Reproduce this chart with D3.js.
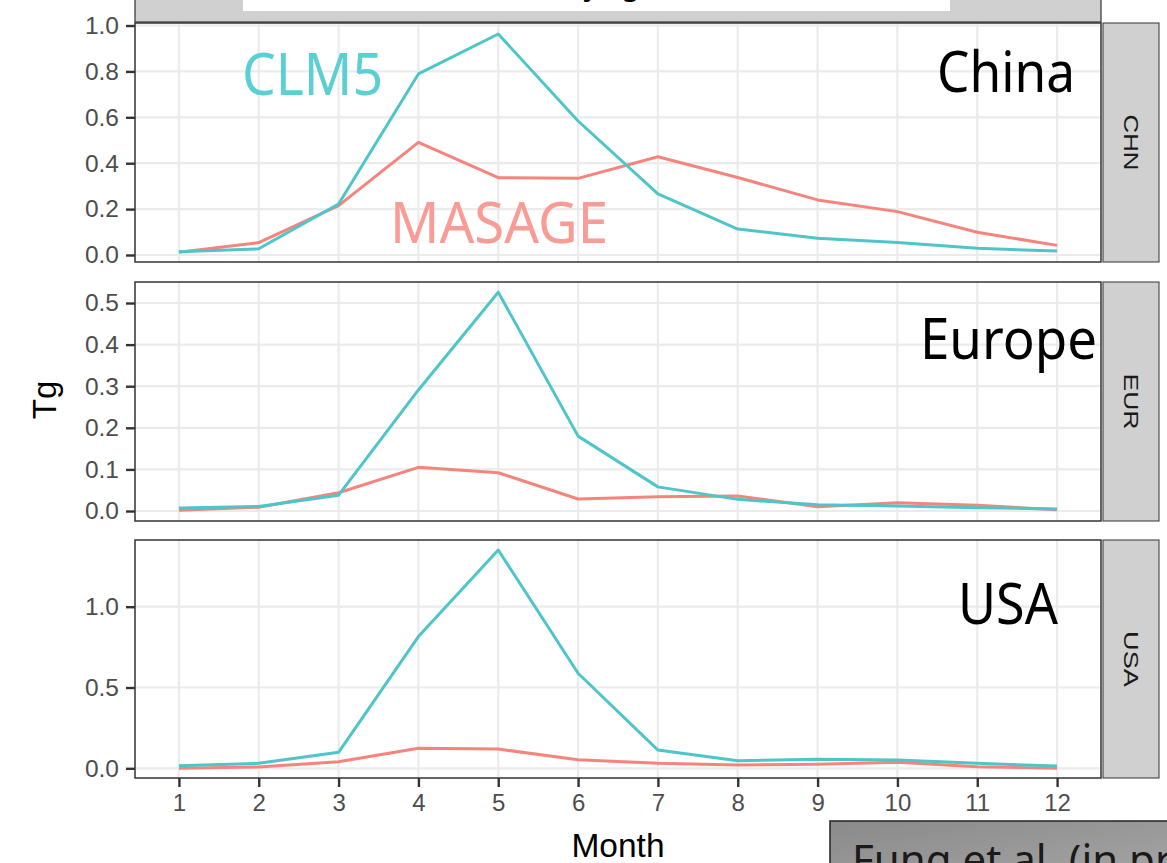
<!DOCTYPE html>
<html><head><meta charset="utf-8">
<script src="https://cdn.jsdelivr.net/npm/d3@7"></script>
<style>body{margin:0;background:#fff}svg{display:block}</style>
</head><body>
<svg id="c" width="1167" height="863"></svg>
<script>
// ---- data ----
const months = [1,2,3,4,5,6,7,8,9,10,11,12];
const monthLabels = ["1","2","3","4","5","6","7","8","9","10","11","12"];
const regions = ["CHN","EUR","USA"];
const regionNames = ["China","Europe","USA"];
const seriesNames = ["MASAGE","CLM5"];

const chnMASAGE = [0.012,0.054,0.215,0.491,0.337,0.334,0.428,0.338,0.240,0.189,0.099,0.042];
const chnCLM5   = [0.014,0.027,0.222,0.789,0.963,0.584,0.266,0.113,0.073,0.054,0.029,0.017];
const eurMASAGE = [0.002,0.009,0.044,0.105,0.092,0.029,0.034,0.036,0.010,0.020,0.014,0.003];
const eurCLM5   = [0.007,0.011,0.038,0.291,0.526,0.180,0.058,0.028,0.015,0.012,0.008,0.005];
const usaMASAGE = [0.001,0.008,0.041,0.124,0.119,0.053,0.031,0.020,0.025,0.037,0.010,0.001];
const usaCLM5   = [0.016,0.031,0.099,0.815,1.351,0.588,0.113,0.047,0.056,0.051,0.031,0.014];

const chnTicks = [0,0.2,0.4,0.6,0.8,1.0];
const eurTicks = [0,0.1,0.2,0.3,0.4,0.5];
const usaTicks = [0,0.5,1.0];
const chnLimits = [-0.0305,1.011];
const eurLimits = [-0.024,0.5505];
const usaLimits = [-0.060,1.4128];

// ---- layout ----
const svg = d3.select("#c");
const L = 135, R = 1101;
const panels = [
  {code:regions[0], name:regionNames[0], top:23, bottom:262, m:chnMASAGE, c:chnCLM5, ticks:chnTicks, lim:chnLimits, lab:{x:1075, y:91.7, w:138}},
  {code:regions[1], name:regionNames[1], top:282, bottom:521, m:eurMASAGE, c:eurCLM5, ticks:eurTicks, lim:eurLimits, lab:{x:1097, y:359, w:177}},
  {code:regions[2], name:regionNames[2], top:540, bottom:778, m:usaMASAGE, c:usaCLM5, ticks:usaTicks, lim:usaLimits, lab:{x:1058, y:624, w:100}}
];
const colM = "#f5847d", colC = "#4ec5c8";
const x = d3.scaleLinear().domain([0.45, 12.55]).range([L, R]);

// top strip (partially hidden title)
svg.append("rect").attr("x",L).attr("y",-5).attr("width",R-L).attr("height",27)
  .attr("fill","#d0d0d0").attr("stroke","#333").attr("stroke-width",1.2);
svg.append("rect").attr("x",243).attr("y",0).attr("width",707).attr("height",11).attr("fill","#fff");
svg.append("text").attr("x",640).attr("y",-5).attr("text-anchor","end")
  .attr("font-family","Noto Sans").attr("font-size",30).attr("fill","#000").text("Monthly Tg");

const fontAxis = "Liberation Sans, Arial, sans-serif";

panels.forEach(p => {
  const y = d3.scaleLinear().domain(p.lim).range([p.bottom, p.top]);
  const g = svg.append("g");
  g.append("rect").attr("x",L).attr("y",p.top).attr("width",R-L).attr("height",p.bottom-p.top).attr("fill","#fff");
  // grid
  g.selectAll(".gx").data(months).join("line")
    .attr("x1",d=>x(d)).attr("x2",d=>x(d)).attr("y1",p.top).attr("y2",p.bottom)
    .attr("stroke","#ebebeb").attr("stroke-width",2.2);
  g.selectAll(".gy").data(p.ticks).join("line")
    .attr("x1",L).attr("x2",R).attr("y1",d=>y(d)).attr("y2",d=>y(d))
    .attr("stroke","#ebebeb").attr("stroke-width",2.2);
  // lines
  const clipId = "clip"+p.code;
  svg.append("clipPath").attr("id",clipId).append("rect")
    .attr("x",L).attr("y",p.top).attr("width",R-L).attr("height",p.bottom-p.top);
  const line = d3.line().x((d,i)=>x(months[i])).y(d=>y(d));
  [[p.m,colM],[p.c,colC]].forEach(([vals,col]) => {
    g.append("path").datum(vals).attr("d",line).attr("fill","none")
      .attr("stroke",col).attr("stroke-width",3).attr("stroke-linejoin","round")
      .attr("clip-path","url(#"+clipId+")");
  });
  // border
  g.append("rect").attr("x",L).attr("y",p.top).attr("width",R-L).attr("height",p.bottom-p.top)
    .attr("fill","none").attr("stroke","#333").attr("stroke-width",1.5);
  // y axis
  const ax = d3.axisLeft(y).tickValues(p.ticks).tickFormat(d3.format(".1f")).tickSize(9).tickPadding(7);
  const ag = svg.append("g").attr("transform","translate("+L+",0)").call(ax);
  ag.select(".domain").remove();
  ag.selectAll(".tick line").attr("stroke","#333").attr("stroke-width",2.4);
  ag.selectAll(".tick text").attr("fill","#4d4d4d").attr("font-family",fontAxis).attr("font-size",24.5);
  // right strip
  svg.append("rect").attr("x",R+2).attr("y",p.top).attr("width",56).attr("height",p.bottom-p.top)
    .attr("fill","#d0d0d0").attr("stroke","#333").attr("stroke-width",1);
  const cy = (p.top+p.bottom)/2;
  svg.append("text").attr("transform","translate(1124,"+cy+") rotate(90)")
    .attr("text-anchor","middle").attr("font-family",fontAxis).attr("font-size",20)
    .attr("textLength",56).attr("lengthAdjust","spacingAndGlyphs")
    .attr("fill","#1a1a1a").text(p.code);
  // region label
  svg.append("text").attr("x",p.lab.x).attr("y",p.lab.y).attr("text-anchor","end")
    .attr("font-family","Noto Sans").attr("font-size",57).attr("fill","#000")
    .attr("textLength",p.lab.w).attr("lengthAdjust","spacingAndGlyphs").text(p.name);
});

// series annotations
svg.append("text").attr("x",242).attr("y",95).attr("font-family","Noto Sans").attr("font-size",59)
  .attr("fill","#5ccfd2").attr("textLength",141).attr("lengthAdjust","spacingAndGlyphs").text(seriesNames[1]);
svg.append("text").attr("x",390).attr("y",243).attr("font-family","Noto Sans").attr("font-size",56)
  .attr("fill","#f99c95").attr("textLength",218).attr("lengthAdjust","spacingAndGlyphs").text(seriesNames[0]);

// x axis
const xa = d3.axisBottom(x).tickValues(months).tickFormat((d,i)=>monthLabels[i]).tickSize(9).tickPadding(7);
const xg = svg.append("g").attr("transform","translate(0,778)").call(xa);
xg.select(".domain").remove();
xg.selectAll(".tick line").attr("stroke","#333").attr("stroke-width",2.4);
xg.selectAll(".tick text").attr("fill","#4d4d4d").attr("font-family",fontAxis).attr("font-size",24);

// axis titles
svg.append("text").attr("x",618).attr("y",857).attr("text-anchor","middle")
  .attr("font-family",fontAxis).attr("font-size",33.5).attr("fill","#000").text("Month");
svg.append("text").attr("transform","translate(56,400) rotate(-90)").attr("text-anchor","middle")
  .attr("font-family",fontAxis).attr("font-size",33).attr("fill","#000").text("Tg");

// citation box
const defs = svg.append("defs");
const grad = defs.append("linearGradient").attr("id","gb").attr("x1","0").attr("x2","1").attr("y1","0").attr("y2","1");
grad.append("stop").attr("offset","0").attr("stop-color","#8a8a8a");
grad.append("stop").attr("offset","1").attr("stop-color","#a6a6a6");
svg.append("rect").attr("x",830).attr("y",821).attr("width",345).attr("height",60)
  .attr("fill","url(#gb)").attr("stroke","#222").attr("stroke-width",1.5);
svg.append("text").attr("x",852).attr("y",875).attr("font-family","Noto Sans").attr("font-size",42)
  .attr("fill","#1a1a1a").text("Fung et al. (in prep)");
</script>
</body></html>
